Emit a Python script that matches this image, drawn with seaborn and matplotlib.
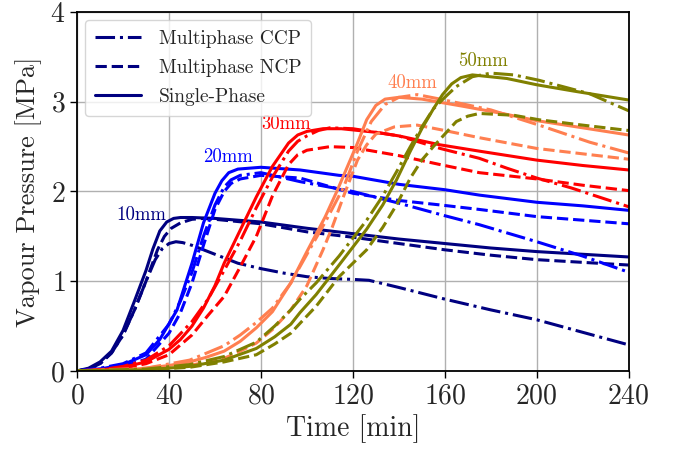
import numpy as np
import pandas as pd
import matplotlib
matplotlib.use("Agg")
import matplotlib.pyplot as plt
import seaborn as sns
from matplotlib.lines import Line2D

# ---------------- data ----------------
sizes = ["10mm", "20mm", "30mm", "40mm", "50mm"]
models = ["Multiphase CCP", "Multiphase NCP", "Single-Phase"]
colors = ["#000080", "#0000FF", "#FF0000", "#FF7F50", "#808000"]

# 10 mm
t10_sp = [0, 5, 10, 15, 20, 25, 30, 33, 36, 39, 42, 45, 50, 60, 80, 100, 120, 140, 160, 180, 200, 220, 240]
p10_sp = [0, 0.03, 0.10, 0.22, 0.45, 0.78, 1.12, 1.36, 1.56, 1.66, 1.70, 1.71, 1.71, 1.70, 1.66, 1.59, 1.53, 1.47, 1.42, 1.37, 1.33, 1.30, 1.27]
t10_ncp = [0, 5, 10, 15, 20, 25, 30, 35, 38, 41, 45, 50, 55, 60, 80, 100, 120, 140, 160, 180, 200, 220, 240]
p10_ncp = [0, 0.02, 0.08, 0.20, 0.40, 0.68, 1.00, 1.35, 1.50, 1.59, 1.65, 1.69, 1.70, 1.69, 1.64, 1.55, 1.49, 1.42, 1.35, 1.29, 1.24, 1.21, 1.18]
t10_ccp = [0, 5, 10, 15, 20, 25, 30, 34, 37, 40, 43, 46, 50, 60, 70, 80, 90, 100, 110, 120, 127, 140, 160, 180, 200, 220, 240]
p10_ccp = [0, 0.02, 0.08, 0.20, 0.40, 0.68, 1.00, 1.24, 1.36, 1.42, 1.44, 1.43, 1.40, 1.30, 1.20, 1.14, 1.09, 1.05, 1.03, 1.02, 1.01, 0.93, 0.80, 0.68, 0.57, 0.43, 0.29]

# 20 mm
t20_sp = [0, 10, 20, 30, 36, 43.5, 50, 55, 60, 63, 66, 70, 80, 97, 114, 120, 140, 160, 175, 200, 220, 240]
p20_sp = [0, 0.02, 0.07, 0.18, 0.35, 0.68, 1.20, 1.65, 1.98, 2.12, 2.21, 2.25, 2.27, 2.24, 2.18, 2.17, 2.08, 2.02, 1.96, 1.88, 1.84, 1.79]
t20_ncp = [0, 10, 20, 30, 40, 45, 50, 55, 60, 64, 67, 71, 80, 97, 120, 140, 158, 175, 200, 220, 240]
p20_ncp = [0, 0.02, 0.05, 0.13, 0.42, 0.65, 0.98, 1.40, 1.80, 2.00, 2.09, 2.14, 2.18, 2.15, 1.98, 1.90, 1.85, 1.80, 1.72, 1.68, 1.64]
t20_ccp = [0, 10, 20, 30, 40, 45, 50, 55, 60, 64, 67, 71, 80, 97, 120, 140, 160, 175, 200, 220, 240]
p20_ccp = [0, 0.03, 0.08, 0.20, 0.52, 0.78, 1.10, 1.50, 1.85, 2.05, 2.13, 2.18, 2.21, 2.11, 2.00, 1.87, 1.73, 1.63, 1.44, 1.28, 1.10]

# 30 mm
t30_sp = [0, 10, 20, 30, 40, 45, 50, 55, 60, 64, 71, 78, 85, 92, 96, 100, 107, 115, 130, 140, 158, 175, 200, 220, 240]
p30_sp = [0, 0.01, 0.04, 0.10, 0.24, 0.35, 0.50, 0.70, 0.95, 1.20, 1.57, 1.94, 2.28, 2.54, 2.63, 2.67, 2.70, 2.70, 2.66, 2.62, 2.52, 2.45, 2.35, 2.29, 2.24]
t30_ncp = [0, 20, 30, 40, 50, 57, 64, 71, 78, 85, 92, 96, 100, 110, 120, 140, 158, 175, 200, 220, 240]
p30_ncp = [0, 0.03, 0.08, 0.18, 0.40, 0.62, 0.83, 1.16, 1.50, 1.95, 2.30, 2.41, 2.46, 2.50, 2.49, 2.40, 2.30, 2.21, 2.14, 2.07, 2.01]
t30_ccp = [0, 10, 20, 30, 40, 50, 57, 64, 71, 78, 85, 92, 96, 100, 105, 110, 120, 140, 158, 175, 187, 200, 215, 240]
p30_ccp = [0, 0.01, 0.05, 0.12, 0.28, 0.55, 0.80, 1.12, 1.45, 1.82, 2.16, 2.45, 2.56, 2.62, 2.68, 2.71, 2.70, 2.62, 2.48, 2.37, 2.26, 2.15, 2.04, 1.83]

# 40 mm
t40_sp = [0, 20, 30, 40, 49, 56, 64, 71, 78, 85, 93, 100, 108, 113, 116, 122, 126, 130, 134, 140, 150, 168, 185, 200, 220, 240]
p40_sp = [0, 0.01, 0.03, 0.06, 0.10, 0.15, 0.22, 0.33, 0.48, 0.66, 0.98, 1.33, 1.72, 2.00, 2.18, 2.54, 2.80, 2.96, 3.03, 3.05, 3.03, 2.95, 2.87, 2.79, 2.71, 2.63]
t40_ncp = [0, 30, 49, 64, 71, 78, 85, 93, 100, 107, 111, 116, 122, 126, 130, 138, 148, 158, 175, 200, 220, 240]
p40_ncp = [0, 0.02, 0.06, 0.14, 0.22, 0.31, 0.46, 0.68, 0.95, 1.35, 1.60, 1.95, 2.35, 2.52, 2.64, 2.72, 2.74, 2.69, 2.60, 2.48, 2.42, 2.36]
t40_ccp = [0, 30, 49, 64, 71, 78, 85, 93, 100, 108, 116, 122, 128, 134, 140, 148, 158, 180, 201, 223, 240]
p40_ccp = [0, 0.03, 0.12, 0.28, 0.40, 0.54, 0.70, 0.98, 1.30, 1.66, 2.05, 2.45, 2.78, 2.97, 3.05, 3.08, 3.03, 2.91, 2.74, 2.55, 2.43]

# 50 mm
t50_sp = [0, 30, 49, 64, 78, 86, 93, 97, 104, 114, 120, 126, 133, 139, 145, 150, 155, 159, 163, 167, 172, 187, 200, 216, 240]
p50_sp = [0, 0.01, 0.05, 0.12, 0.25, 0.38, 0.52, 0.65, 0.85, 1.18, 1.38, 1.58, 1.85, 2.13, 2.45, 2.70, 2.92, 3.08, 3.20, 3.27, 3.30, 3.26, 3.19, 3.12, 3.02]
t50_ncp = [0, 30, 49, 64, 78, 86, 93, 97, 104, 114, 120, 126, 133, 139, 145, 150, 155, 160, 165, 170, 175, 190, 201, 220, 240]
p50_ncp = [0, 0.01, 0.04, 0.10, 0.18, 0.30, 0.42, 0.53, 0.72, 1.05, 1.20, 1.35, 1.60, 1.85, 2.15, 2.35, 2.50, 2.64, 2.78, 2.84, 2.87, 2.85, 2.80, 2.74, 2.68]
t50_ccp = [0, 30, 49, 64, 78, 86, 93, 97, 104, 114, 120, 126, 133, 139, 145, 150, 155, 160, 165, 172, 180, 190, 201, 223, 240]
p50_ccp = [0, 0.02, 0.07, 0.16, 0.32, 0.50, 0.68, 0.80, 0.98, 1.28, 1.48, 1.68, 1.95, 2.22, 2.50, 2.72, 2.92, 3.05, 3.17, 3.28, 3.32, 3.30, 3.24, 3.09, 2.90]

# label anchor positions (time, pressure)
label_t = [28, 65.7, 90.9, 146, 176.5]
label_p = [1.74, 2.38, 2.75, 3.21, 3.45]

xticks = [0, 40, 80, 120, 160, 200, 240]
yticks = [0, 1, 2, 3, 4]

series = {
    ("10mm", "Single-Phase"): (t10_sp, p10_sp),
    ("10mm", "Multiphase NCP"): (t10_ncp, p10_ncp),
    ("10mm", "Multiphase CCP"): (t10_ccp, p10_ccp),
    ("20mm", "Single-Phase"): (t20_sp, p20_sp),
    ("20mm", "Multiphase NCP"): (t20_ncp, p20_ncp),
    ("20mm", "Multiphase CCP"): (t20_ccp, p20_ccp),
    ("30mm", "Single-Phase"): (t30_sp, p30_sp),
    ("30mm", "Multiphase NCP"): (t30_ncp, p30_ncp),
    ("30mm", "Multiphase CCP"): (t30_ccp, p30_ccp),
    ("40mm", "Single-Phase"): (t40_sp, p40_sp),
    ("40mm", "Multiphase NCP"): (t40_ncp, p40_ncp),
    ("40mm", "Multiphase CCP"): (t40_ccp, p40_ccp),
    ("50mm", "Single-Phase"): (t50_sp, p50_sp),
    ("50mm", "Multiphase NCP"): (t50_ncp, p50_ncp),
    ("50mm", "Multiphase CCP"): (t50_ccp, p50_ccp),
}

rows = []
for (s, m), (tt, pp) in series.items():
    for a, b in zip(tt, pp):
        rows.append({"t": a, "P": b, "size": s, "model": m})
df = pd.DataFrame(rows)

# ---------------- style ----------------
sns.set_style("ticks")
plt.rcParams["font.family"] = ["cmr10", "DejaVu Serif"]
plt.rcParams["axes.formatter.use_mathtext"] = True
plt.rcParams["mathtext.fontset"] = "cm"

fig = plt.figure(figsize=(6.76, 4.49), dpi=100)
ax = fig.add_axes([0.114, 0.174, 0.816, 0.799])

dash_map = {"Single-Phase": "", "Multiphase NCP": (3.7, 1.6), "Multiphase CCP": (6.4, 1.6, 1.0, 1.6)}
sns.lineplot(data=df, x="t", y="P", hue="size", style="model",
             hue_order=sizes, palette=colors, style_order=models,
             dashes=dash_map, estimator=None, sort=False, lw=2.2,
             legend=False, ax=ax)

ax.set_xlim(0, 240)
ax.set_ylim(0, 4)
ax.set_xticks(xticks)
ax.set_yticks(yticks)
ax.grid(True, color="#b0b0b0", lw=1.0)
ax.set_axisbelow(True)
for sp in ax.spines.values():
    sp.set_visible(True)
    sp.set_color("black")
    sp.set_linewidth(1.3)
ax.tick_params(axis="both", direction="out", length=5, width=1.0, labelsize=20, color="black")
ax.set_xlabel("Time [min]", fontsize=20, labelpad=4)
ax.set_ylabel("Vapour Pressure [MPa]", fontsize=19, labelpad=6)

for s, c, lt, lp in zip(sizes, colors, label_t, label_p):
    ax.text(lt, lp, s, color=c, fontsize=13.5, ha="center", va="center")

handles = [
    Line2D([], [], color="#000080", lw=2.2, dashes=(6.4, 1.6, 1.0, 1.6)),
    Line2D([], [], color="#000080", lw=2.2, dashes=(3.7, 1.6)),
    Line2D([], [], color="#000080", lw=2.2),
]
ax.legend(handles, models, loc="upper left", fontsize=14, frameon=True,
          fancybox=True, framealpha=0.8, edgecolor="#cccccc",
          handlelength=2.4, handletextpad=0.9, labelspacing=0.58,
          borderpad=0.5, borderaxespad=0.4)

fig.savefig("out.png", dpi=100)
